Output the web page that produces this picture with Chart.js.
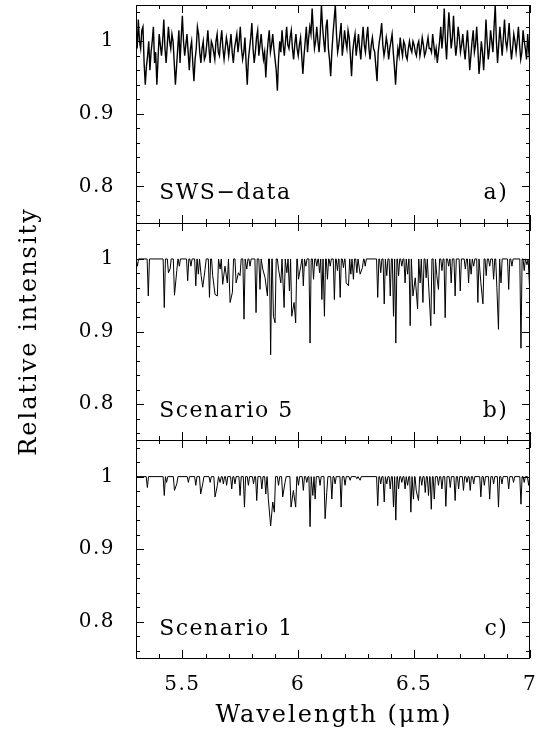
<!DOCTYPE html>
<html>
<head>
<meta charset="utf-8">
<script src="https://cdn.jsdelivr.net/npm/chart.js@4/dist/chart.umd.min.js"></script>
<style>
html, body { margin: 0; padding: 0; background: #fff; }
#wrap { width: 548px; height: 746px; }
</style>
</head>
<body>
<div id="wrap"><canvas id="myChart" width="548" height="746"></canvas></div>
<script>
var xMin = 5.3, xMax = 7.0;
var yMin = 0.75, yMax = 1.05;
var xTicks = [5.5, 6, 6.5, 7];
var yTicks = [0.8, 0.9, 1];
var panelNames = ['SWS\u2212data', 'Scenario 5', 'Scenario 1'];
var panelTags = ['a)', 'b)', 'c)'];

// a) SWS data, one value every 0.005 um from 5.300
var swsStart = 5.30, swsStep = 0.005;
var swsFlux = [
  1.01, 0.99, 1.03, 1.00, 0.99, 1.015, 1.02, 0.97, 0.94, 0.965, 0.98, 1.00, 0.96, 0.985, 1.00, 1.02, 0.97, 0.985, 0.94, 0.975,
  1.01, 0.995, 0.98, 1.00, 1.03, 0.99, 0.97, 0.995, 1.02, 1.00, 0.99, 1.01, 1.00, 0.97, 0.94, 0.965, 0.99, 1.015, 0.97, 1.005,
  1.035, 1.00, 0.98, 0.995, 1.01, 0.985, 0.96, 0.99, 1.00, 0.97, 0.945, 0.975, 0.99, 1.02, 1.01, 0.985, 0.97, 0.99, 1.00, 0.975,
  0.98, 0.995, 1.015, 0.99, 0.97, 1.00, 0.995, 0.985, 0.975, 1.00, 1.01, 0.985, 0.98, 1.00, 1.015, 0.99, 0.975, 0.99, 1.005, 0.995,
  0.98, 0.995, 1.01, 0.985, 0.97, 0.99, 1.00, 1.01, 0.985, 1.00, 1.02, 0.99, 0.975, 0.985, 1.005, 0.97, 0.94, 0.975, 0.99, 1.005,
  1.025, 0.99, 0.97, 0.985, 1.005, 1.015, 0.98, 0.995, 1.01, 0.99, 0.975, 0.985, 0.95, 0.98, 1.00, 1.015, 0.985, 0.995, 1.01, 0.99,
  0.975, 0.96, 0.932, 0.975, 1.00, 0.985, 1.015, 0.995, 0.98, 1.00, 1.02, 0.995, 0.99, 1.005, 1.015, 0.99, 0.975, 0.995, 1.01, 0.99,
  0.98, 0.995, 1.005, 0.98, 0.955, 0.98, 1.00, 1.02, 0.985, 1.005, 1.02, 1.01, 1.045, 1.015, 0.99, 1.00, 1.02, 1.00, 0.985, 1.01,
  1.05, 1.02, 1.00, 0.985, 1.02, 1.03, 0.99, 0.975, 0.952, 0.985, 1.01, 1.03, 1.05, 1.01, 0.985, 0.995, 1.01, 1.025, 0.98, 0.995,
  1.015, 1.00, 0.99, 1.015, 1.005, 0.98, 0.952, 0.985, 1.00, 1.01, 0.98, 0.995, 1.01, 0.99, 0.975, 1.00, 1.02, 0.995, 0.985, 1.005,
  1.02, 0.99, 0.975, 0.995, 1.005, 0.99, 0.985, 0.965, 0.945, 0.985, 1.00, 1.01, 1.025, 0.995, 0.98, 0.99, 1.005, 0.995, 0.975, 0.99,
  1.00, 1.01, 0.985, 0.965, 0.94, 0.97, 0.99, 0.98, 1.005, 0.99, 0.98, 1.00, 0.995, 0.98, 0.975, 0.99, 1.00, 0.99, 0.985, 1.00,
  0.995, 0.985, 0.98, 0.995, 1.00, 0.98, 0.99, 1.005, 0.995, 0.98, 0.985, 0.995, 1.005, 0.99, 0.99, 0.985, 1.01, 0.995, 0.98, 0.99,
  0.97, 0.985, 1.00, 1.02, 0.99, 1.01, 1.045, 1.00, 0.975, 1.01, 1.04, 1.015, 0.99, 1.005, 1.035, 1.00, 0.98, 0.995, 1.02, 1.005,
  0.985, 0.995, 1.01, 0.99, 0.975, 0.995, 1.015, 0.99, 0.96, 0.98, 1.00, 1.015, 0.985, 0.995, 1.02, 0.99, 0.955, 0.975, 1.00, 0.985,
  0.96, 0.99, 1.03, 1.00, 0.975, 0.99, 1.015, 1.00, 0.985, 1.02, 1.05, 1.00, 0.97, 0.995, 1.02, 1.00, 0.98, 1.005, 1.03, 1.00,
  0.99, 1.005, 1.025, 0.995, 0.975, 0.99, 1.01, 1.00, 0.985, 1.00, 1.02, 0.995, 0.975, 0.985, 1.015, 1.00, 0.99, 0.975, 1.01, 0.985,
  0.97
];

// b) Scenario 5: absorption line centres (um) and their minima
var scen5Centers = [
  5.306, 5.353, 5.422, 5.440, 5.447, 5.466, 5.476, 5.487, 5.523, 5.537,
  5.558, 5.569, 5.581, 5.588, 5.598, 5.617, 5.631, 5.641, 5.651, 5.663,
  5.674, 5.684, 5.694, 5.706, 5.716, 5.732, 5.742, 5.749, 5.766, 5.778,
  5.792, 5.818, 5.835, 5.847, 5.857, 5.867, 5.881, 5.893, 5.900, 5.915,
  5.925, 5.939, 5.951, 5.962, 5.972, 5.982, 5.989, 6.001, 6.011, 6.022,
  6.033, 6.051, 6.066, 6.080, 6.092, 6.102, 6.113, 6.126, 6.138, 6.156,
  6.169, 6.181, 6.195, 6.207, 6.217, 6.227, 6.238, 6.253, 6.267, 6.277,
  6.289, 6.343, 6.356, 6.371, 6.382, 6.397, 6.411, 6.421, 6.433, 6.447,
  6.461, 6.472, 6.483, 6.495, 6.505, 6.515, 6.526, 6.538, 6.552, 6.562,
  6.572, 6.587, 6.598, 6.605, 6.620, 6.634, 6.649, 6.660, 6.677, 6.699,
  6.721, 6.735, 6.746, 6.757, 6.775, 6.788, 6.797, 6.811, 6.826, 6.843,
  6.857, 6.864, 6.875, 6.908, 6.922, 6.961, 6.975, 6.987, 6.998
];
var scen5Depths = [
  0.990, 0.949, 0.933, 0.981, 0.986, 0.950, 0.984, 0.990, 0.970, 0.990,
  0.963, 0.979, 0.977, 0.961, 0.986, 0.947, 0.977, 0.951, 0.949, 0.986,
  0.965, 0.990, 0.967, 0.940, 0.954, 0.967, 0.981, 0.977, 0.917, 0.986,
  0.990, 0.926, 0.958, 0.986, 0.974, 0.949, 0.868, 0.921, 0.912, 0.986,
  0.967, 0.933, 0.981, 0.956, 0.921, 0.940, 0.912, 0.972, 0.990, 0.963,
  0.990, 0.884, 0.972, 0.990, 0.981, 0.944, 0.921, 0.972, 0.990, 0.944,
  0.984, 0.947, 0.988, 0.967, 0.963, 0.979, 0.972, 0.981, 0.979, 0.988,
  0.990, 0.947, 0.981, 0.938, 0.977, 0.949, 0.921, 0.884, 0.977, 0.990,
  0.967, 0.979, 0.908, 0.949, 0.974, 0.931, 0.967, 0.940, 0.974, 0.967,
  0.908, 0.924, 0.977, 0.958, 0.984, 0.919, 0.990, 0.967, 0.949, 0.956,
  0.986, 0.967, 0.979, 0.990, 0.940, 0.967, 0.938, 0.977, 0.990, 0.972,
  0.961, 0.903, 0.967, 0.958, 0.990, 0.877, 0.984, 0.992, 0.961
];

// c) Scenario 1: absorption line centres (um) and their minima
var scen1Centers = [
  5.349, 5.422, 5.432, 5.466, 5.476, 5.526, 5.558, 5.579, 5.588, 5.620,
  5.641, 5.651, 5.663, 5.677, 5.691, 5.713, 5.727, 5.749, 5.768, 5.785,
  5.807, 5.821, 5.843, 5.860, 5.871, 5.881, 5.890, 5.897, 5.915, 5.933,
  5.943, 5.969, 5.979, 5.989, 6.001, 6.022, 6.037, 6.051, 6.063, 6.073,
  6.094, 6.116, 6.123, 6.145, 6.159, 6.185, 6.202, 6.224, 6.253, 6.267,
  6.343, 6.356, 6.371, 6.382, 6.397, 6.411, 6.421, 6.433, 6.447, 6.461,
  6.472, 6.486, 6.497, 6.509, 6.519, 6.533, 6.548, 6.562, 6.574, 6.587,
  6.605, 6.620, 6.637, 6.656, 6.677, 6.692, 6.713, 6.728, 6.742, 6.757,
  6.788, 6.803, 6.826, 6.843, 6.864, 6.879, 6.908, 6.929, 6.961, 6.975,
  6.994
];
var scen1Depths = [
  0.985, 0.974, 0.992, 0.981, 0.990, 0.992, 0.988, 0.976, 0.990, 0.992,
  0.972, 0.988, 0.992, 0.990, 0.988, 0.983, 0.990, 0.974, 0.958, 0.988,
  0.990, 0.967, 0.983, 0.976, 0.969, 0.932, 0.965, 0.951, 0.988, 0.972,
  0.992, 0.958, 0.981, 0.958, 0.988, 0.981, 0.992, 0.931, 0.974, 0.969,
  0.988, 0.942, 0.978, 0.969, 0.990, 0.958, 0.988, 0.995, 0.997, 0.995,
  0.960, 0.990, 0.965, 0.990, 0.983, 0.958, 0.940, 0.983, 0.992, 0.983,
  0.988, 0.951, 0.969, 0.981, 0.967, 0.988, 0.978, 0.974, 0.955, 0.969,
  0.988, 0.983, 0.959, 0.985, 0.967, 0.983, 0.981, 0.992, 0.981, 0.990,
  0.972, 0.988, 0.969, 0.990, 0.958, 0.990, 0.983, 0.992, 0.962, 0.992,
  0.988
];

var lineHalfWidth = 0.005;
var panelIds = ['ya', 'yb', 'yc'];

function buildSws() {
  return swsFlux.map(function (v, i) {
    return { x: swsStart + i * swsStep, y: v };
  });
}

function buildSpectrum(centers, depths) {
  var pts = [{ x: xMin, y: 1 }];
  for (var i = 0; i < centers.length; i++) {
    var prev = i > 0 ? centers[i - 1] : -Infinity;
    var next = i < centers.length - 1 ? centers[i + 1] : Infinity;
    if (centers[i] - prev >= 2 * lineHalfWidth) pts.push({ x: centers[i] - lineHalfWidth, y: 1 });
    pts.push({ x: centers[i], y: depths[i] });
    if (next - centers[i] >= 2 * lineHalfWidth) pts.push({ x: centers[i] + lineHalfWidth, y: 1 });
  }
  if (pts[pts.length - 1].x < xMax) pts.push({ x: xMax, y: 1 });
  return pts;
}

var serif = "'DejaVu Serif', serif";
Chart.defaults.color = '#000';

function panelScale() {
  return {
    type: 'linear',
    position: 'left',
    stack: 'panels',
    stackWeight: 1,
    min: yMin,
    max: yMax,
    grid: { display: false },
    border: { display: false },
    afterBuildTicks: function (s) {
      s.ticks = yTicks.map(function (v) { return { value: v }; });
    },
    afterFit: function (s) {
      s.width = 136;
      s.paddingTop = 0;
      s.paddingBottom = 0;
    },
    ticks: {
      padding: 13,
      font: { family: serif, size: 20 },
      callback: function (v) { return v === 1 ? '1' : v.toFixed(1); }
    }
  };
}

// frames, inward tick marks and the panel texts
var framePlugin = {
  id: 'frames',
  beforeDraw: function (chart) {
    chart.ctx.letterSpacing = '1.5px';
  },
  afterDraw: function (chart) {
    var ctx = chart.ctx;
    var area = chart.chartArea;
    var sx = chart.scales.x;
    ctx.save();
    ctx.strokeStyle = '#000';
    ctx.fillStyle = '#000';
    ctx.lineWidth = 1;
    panelIds.forEach(function (id, k) {
      var s = chart.scales[id];
      var top = Math.round(s.top), bot = Math.round(s.bottom);
      ctx.strokeRect(area.left + 0.5, top + 0.5, area.right - area.left - 1, bot - top);
      ctx.beginPath();
      for (var i = 38; i <= 52; i++) {
        var py = Math.round(s.getPixelForValue(i / 50)) + 0.5;
        var len = i % 5 === 0 ? 8 : 4;
        ctx.moveTo(area.left, py); ctx.lineTo(area.left + len, py);
        ctx.moveTo(area.right, py); ctx.lineTo(area.right - len, py);
      }
      for (var j = 53; j <= 70; j++) {
        var px = Math.round(sx.getPixelForValue(j / 10)) + 0.5;
        var l2 = j % 5 === 0 ? 8 : 4;
        ctx.moveTo(px, top); ctx.lineTo(px, top + l2);
        ctx.moveTo(px, bot); ctx.lineTo(px, bot - l2);
      }
      ctx.stroke();

      ctx.font = '22px ' + serif;
      ctx.letterSpacing = '1.5px';
      ctx.textBaseline = 'middle';
      ctx.textAlign = 'left';
      var ty = s.getPixelForValue(0.79);
      ctx.fillText(panelNames[k], sx.getPixelForValue(5.4), ty);
      ctx.textAlign = 'right';
      ctx.fillText(panelTags[k], sx.getPixelForValue(6.9) + 1.5, ty);
    });

    ctx.font = '24px ' + serif;
    ctx.letterSpacing = '2px';
    ctx.textAlign = 'center';
    ctx.textBaseline = 'middle';
    ctx.fillText('Wavelength (\u03bcm)', (area.left + area.right) / 2 + 1, 716);

    ctx.translate(30, (area.top + area.bottom) / 2);
    ctx.rotate(-Math.PI / 2);
    ctx.fillText('Relative intensity', 0, 0);
    ctx.restore();
  }
};

var ctx = document.getElementById('myChart');
var chart = new Chart(ctx, {
  type: 'line',
  data: {
    datasets: [
      { label: panelNames[0], data: buildSws(), yAxisID: 'ya', borderWidth: 1.4 },
      { label: panelNames[1], data: buildSpectrum(scen5Centers, scen5Depths), yAxisID: 'yb' },
      { label: panelNames[2], data: buildSpectrum(scen1Centers, scen1Depths), yAxisID: 'yc' }
    ]
  },
  options: {
    responsive: false,
    animation: false,
    devicePixelRatio: 1,
    layout: { padding: { top: 5, right: 18, left: 0, bottom: 0 } },
    plugins: {
      legend: { display: false },
      tooltip: { enabled: false }
    },
    elements: {
      point: { radius: 0 },
      line: { borderColor: '#000', borderWidth: 1, tension: 0 }
    },
    scales: {
      x: {
        type: 'linear',
        min: xMin,
        max: xMax,
        grid: { display: false },
        border: { display: false },
        afterBuildTicks: function (s) {
          s.ticks = xTicks.map(function (v) { return { value: v }; });
        },
        afterFit: function (s) {
          s.height = 88;
          s.paddingLeft = 0;
          s.paddingRight = 0;
        },
        ticks: {
          padding: 7,
          maxRotation: 0,
          autoSkip: false,
          font: { family: serif, size: 20 },
          callback: function (v) { return String(v); }
        }
      },
      yc: panelScale(),
      yb: panelScale(),
      ya: panelScale()
    }
  },
  plugins: [framePlugin]
});
</script>
</body>
</html>
